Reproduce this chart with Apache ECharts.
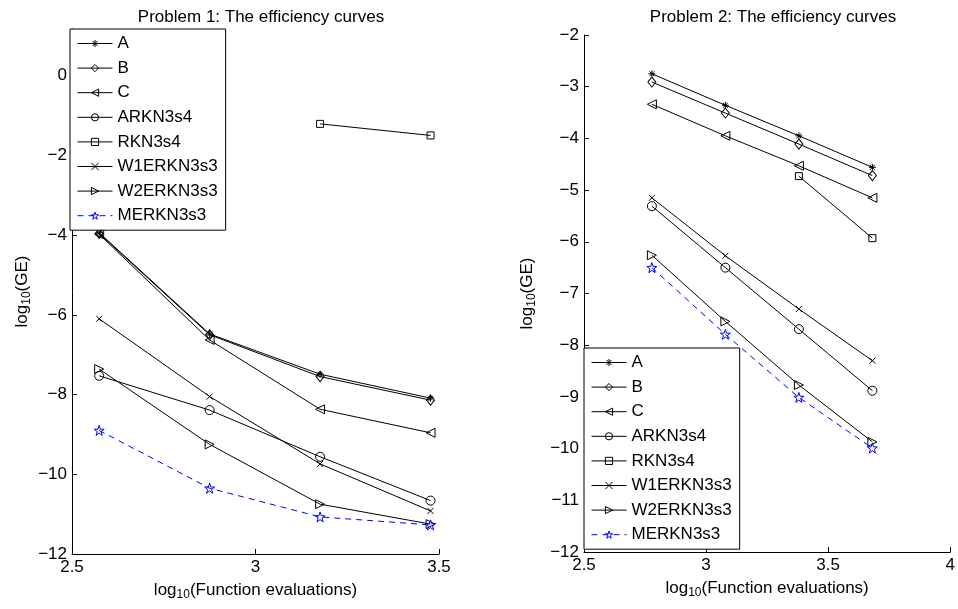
<!DOCTYPE html>
<html>
<head>
<meta charset="utf-8">
<script src="https://cdn.jsdelivr.net/npm/echarts@6/dist/echarts.min.js"></script>
<style>
  html, body { margin: 0; padding: 0; background: #fff; }
  #chart { width: 958px; height: 609px; }
</style>
</head>
<body>
<div id="chart"></div>
<script>
// ---- data ----
const methodNames = ['A', 'B', 'C', 'ARKN3s4', 'RKN3s4', 'W1ERKN3s3', 'W2ERKN3s3', 'MERKN3s3'];

// Problem 1 : log10(function evaluations)
const p1X = [2.574, 2.875, 3.176, 3.477];
const p1A = [-3.94, -6.48, -7.49, -8.09];
const p1B = [-3.96, -6.50, -7.55, -8.14];
const p1C = [-3.98, -6.63, -8.37, -8.96];
const p1ARKN3s4 = [-7.53, -8.39, -9.56, -10.66];
const p1RKN3s4 = [null, null, -1.21, -1.50];
const p1W1ERKN3s3 = [-6.10, -8.05, -9.74, -10.92];
const p1W2ERKN3s3 = [-7.36, -9.25, -10.75, -11.25];
const p1MERKN3s3 = [-8.90, -10.35, -11.07, -11.27];

// Problem 2
const p2X = [2.778, 3.079, 3.380, 3.681];
const p2A = [-2.75, -3.36, -3.95, -4.56];
const p2B = [-2.91, -3.51, -4.11, -4.72];
const p2C = [-3.34, -3.95, -4.53, -5.15];
const p2ARKN3s4 = [-5.31, -6.50, -7.69, -8.88];
const p2RKN3s4 = [null, null, -4.73, -5.93];
const p2W1ERKN3s3 = [-5.15, -6.27, -7.30, -8.30];
const p2W2ERKN3s3 = [-6.26, -7.54, -8.77, -9.87];
const p2MERKN3s3 = [-6.50, -7.79, -9.01, -9.99];

// tick settings
const p1XTicks = [2.5, 3, 3.5];
const p1YTicks = [-12, -10, -8, -6, -4, -2, 0];
const p2XTicks = [2.5, 3, 3.5, 4];
const p2YTicks = [-12, -11, -10, -9, -8, -7, -6, -5, -4, -3, -2];

// ---- styling ----
const FONT = '"Liberation Sans", Arial, Helvetica, sans-serif';
const FS = 17;

function starPath() {
  let pts = [];
  for (let i = 0; i < 10; i++) {
    const r = (i % 2 === 0) ? 10 : 3.9;
    const a = -Math.PI / 2 + i * Math.PI / 5;
    pts.push((10 + r * Math.cos(a)).toFixed(2) + ',' + (10 + r * Math.sin(a)).toFixed(2));
  }
  return 'path://M' + pts.join('L') + 'Z';
}

const symbolDefs = {
  'A':         { symbol: 'path://M5,0L5,10M0,5L10,5M1.5,1.5L8.5,8.5M8.5,1.5L1.5,8.5', size: 7 },
  'B':         { symbol: 'path://M5,0L10,5L5,10L0,5Z', size: [8, 10] },
  'C':         { symbol: 'path://M0,5L10,0L10,10Z', size: 9 },
  'ARKN3s4':   { symbol: 'circle', size: 9 },
  'RKN3s4':    { symbol: 'rect', size: 7 },
  'W1ERKN3s3': { symbol: 'path://M0,0L10,10M10,0L0,10', size: 6 },
  'W2ERKN3s3': { symbol: 'path://M10,5L0,0L0,10Z', size: 9 },
  'MERKN3s3':  { symbol: starPath(), size: 10 }
};

function colOf(name) { return name === 'MERKN3s3' ? '#0000ff' : '#000000'; }

function makeSeries(name, xs, ys, gridIdx) {
  const isBlue = name === 'MERKN3s3';
  const col = colOf(name);
  const sd = symbolDefs[name];
  return {
    name: name,
    type: 'line',
    xAxisIndex: gridIdx,
    yAxisIndex: gridIdx,
    data: xs.map((x, i) => [x, ys[i]]),
    symbol: sd.symbol,
    symbolSize: sd.size,
    showSymbol: true,
    connectNulls: false,
    itemStyle: { color: 'rgba(0,0,0,0)', borderColor: col, borderWidth: 1 },
    lineStyle: { color: col, width: 1, type: isBlue ? [6, 5] : 'solid' },
    emphasis: { disabled: true },
    animation: false,
    z: isBlue ? 3 : 2
  };
}

const p1Series = [p1A, p1B, p1C, p1ARKN3s4, p1RKN3s4, p1W1ERKN3s3, p1W2ERKN3s3, p1MERKN3s3];
const p2Series = [p2A, p2B, p2C, p2ARKN3s4, p2RKN3s4, p2W1ERKN3s3, p2W2ERKN3s3, p2MERKN3s3];

const series = [];
methodNames.forEach((n, i) => series.push(makeSeries(n, p1X, p1Series[i], 0)));
methodNames.forEach((n, i) => series.push(makeSeries(n, p2X, p2Series[i], 1)));

function fmtTick(ticks) {
  return function (v) {
    for (const t of ticks) {
      if (Math.abs(v - t) < 1e-9) return String(t).replace('-', '\u2212');
    }
    return '';
  };
}

const richName = {
  sub: { fontSize: 12, fontFamily: FONT, color: '#000', verticalAlign: 'bottom', padding: [9, 0, 0, 0] }
};

function xAxis(gridIdx, min, max, ticks) {
  return {
    type: 'value', gridIndex: gridIdx, min: min, max: max, interval: 0.5,
    name: 'log{sub|10}(Function evaluations)',
    nameLocation: 'middle', nameGap: 26,
    nameTextStyle: { fontSize: FS, fontFamily: FONT, color: '#000', rich: richName },
    axisLine: { show: true, onZero: false, lineStyle: { color: '#000', width: 1 } },
    axisTick: { show: true, inside: true, length: 5, lineStyle: { color: '#000' } },
    axisLabel: { fontSize: FS, fontFamily: FONT, color: '#000', margin: 5, formatter: fmtTick(ticks),
                 showMinLabel: true, showMaxLabel: true },
    splitLine: { show: false }
  };
}

function yAxis(gridIdx, min, max, interval, ticks, gap) {
  return {
    type: 'value', gridIndex: gridIdx, min: min, max: max, interval: interval,
    name: 'log{sub|10}(GE)',
    nameLocation: 'middle', nameGap: gap, nameRotate: 90,
    nameTextStyle: { fontSize: FS, fontFamily: FONT, color: '#000', rich: richName },
    axisLine: { show: true, onZero: false, lineStyle: { color: '#000', width: 1 } },
    axisTick: { show: true, inside: true, length: 5, lineStyle: { color: '#000' } },
    axisLabel: { fontSize: FS, fontFamily: FONT, color: '#000', margin: 5, formatter: fmtTick(ticks),
                 showMinLabel: true, showMaxLabel: true },
    splitLine: { show: false }
  };
}

function legendData() {
  return methodNames.map(n => {
    const sd = symbolDefs[n];
    const col = colOf(n);
    return {
      name: n,
      itemStyle: { color: 'rgba(0,0,0,0)', borderColor: col, borderWidth: 1 },
      lineStyle: { color: col, width: 1, type: n === 'MERKN3s3' ? [6, 5] : 'solid' }
    };
  });
}

function legend(left, top) {
  return {
    data: legendData(),
    orient: 'vertical',
    left: left, top: top,
    backgroundColor: '#fff',
    borderColor: '#000', borderWidth: 1, borderRadius: 0,
    padding: [6, 8, 6, 7],
    itemWidth: 35, itemHeight: 9, itemGap: 7.6,
    selectedMode: false,
    itemStyle: { color: 'rgba(0,0,0,0)', borderWidth: 1 },
    lineStyle: { width: 1 },
    textStyle: { fontSize: FS, fontFamily: FONT, color: '#000' },
    z: 10
  };
}

const chart = echarts.init(document.getElementById('chart'), null, { renderer: 'canvas' });
chart.setOption({
  animation: false,
  backgroundColor: '#fff',
  title: [
    { text: 'Problem 1: The efficiency curves', left: 256, top: 4, textAlign: 'center',
      textStyle: { fontSize: FS, fontWeight: 'normal', fontFamily: FONT, color: '#000' } },
    { text: 'Problem 2: The efficiency curves', left: 768, top: 4, textAlign: 'center',
      textStyle: { fontSize: FS, fontWeight: 'normal', fontFamily: FONT, color: '#000' } }
  ],
  grid: [
    { left: 72, top: 29, width: 367, height: 525, containLabel: false },
    { left: 584, top: 35, width: 368, height: 517, containLabel: false }
  ],
  xAxis: [ xAxis(0, 2.5, 3.5, p1XTicks), xAxis(1, 2.5, 4, p2XTicks) ],
  yAxis: [ yAxis(0, -12, 1.17, 2, p1YTicks, 39), yAxis(1, -12, -2, 1, p2YTicks, 46) ],
  legend: [ legend(70, 29), legend(584, 348) ],
  series: series
});
</script>
</body>
</html>
